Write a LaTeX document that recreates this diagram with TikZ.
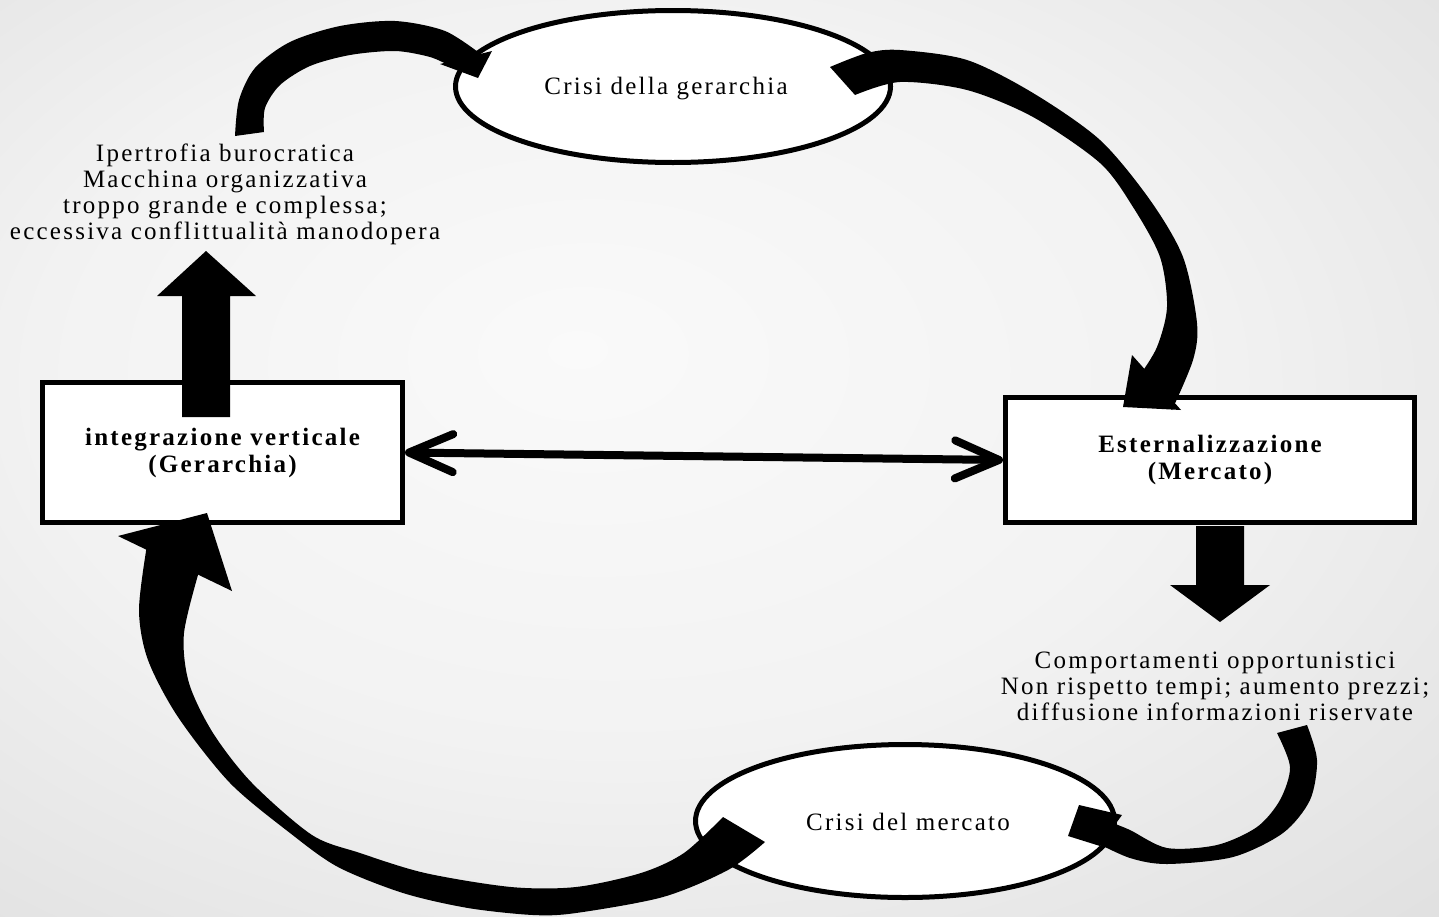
\documentclass[tikz,border=0pt]{standalone}
\usepackage{fontspec}
\setmainfont{Liberation Serif}
\newfontfamily\spaced[LetterSpace=9]{Liberation Serif}
\usetikzlibrary{arrows.meta,shapes.geometric}

% soft grey slide background, lighter in the middle
\pgfdeclareradialshading{slidebg}{\pgfpoint{-5bp}{6bp}}{%
  color(0bp)=(white!98!black); color(20bp)=(white!95!black);
  color(72bp)=(black!24)}

\begin{document}
\begin{tikzpicture}[x=1pt,y=-1pt,
  txt/.style={font=\spaced\fontsize{25}{26}\selectfont, align=center, inner sep=0pt},
  boxnode/.style={draw, line width=5pt, fill=white, rectangle, inner sep=0pt,
    font=\spaced\bfseries\fontsize{25}{27}\selectfont, align=center},
  ellnode/.style={draw, line width=5pt, fill=white, ellipse, inner sep=0pt},
  blockarrow/.style={fill=black},
  curvebody/.style={fill=black}]

\shade[shading=slidebg] (0,0) rectangle (1439,916);
\useasboundingbox (0,0) rectangle (1439,916);

% the two ways of organising production
\node[boxnode, minimum width=360pt, minimum height=140pt] (gerarchia) at (222.5,452.5)
  {integrazione verticale\\(Gerarchia)};
\node[boxnode, minimum width=409pt, minimum height=125pt] (mercato) at (1210,460)
  {Esternalizzazione\\(Mercato)};

% the two crises
\node[ellnode, minimum width=435pt, minimum height=152pt] (crisiG) at (673,86.5) {};
\node[txt] at (666,89) {Crisi della gerarchia};
\node[ellnode, minimum width=419pt, minimum height=153pt] (crisiM) at (905,821) {};
\node[txt] at (908,822) {Crisi del mercato};

% consequences of each form
\node[txt] (costiG) at (225,194) {Ipertrofia burocratica\\Macchina organizzativa\\troppo grande e complessa;\\eccessiva conflittualità manodopera};
\node[txt] (costiM) at (1215,686) {Comportamenti opportunistici\\Non rispetto tempi; aumento prezzi;\\diffusione informazioni riservate};

% two-way link between the forms
\draw[line width=8pt, {Straight Barb[length=44pt,width=38pt,round]}-{Straight Barb[length=44pt,width=38pt,round]}]
  (gerarchia.east) -- (mercato.west);

% straight block arrows
\fill[blockarrow] (182,417) -- (182,296) -- (157,296) -- (206,251) -- (256,296)
  -- (230,296) -- (230,417) -- cycle;
\fill[blockarrow] (1196,526) -- (1196,585) -- (1170,585) -- (1220,622) -- (1270,585)
  -- (1244,585) -- (1244,526) -- cycle;

% curved arrow: costs of hierarchy -> crisis of hierarchy
\fill[curvebody] plot[smooth] coordinates {(235,136) (239,100) (255,68) (290,42) (340,26) (395,21) (445,31) (482,55)}
  -- plot[smooth] coordinates {(450,66) (430,57) (395,51) (350,55) (310,66) (280,85) (265,108) (264,132)} -- cycle;
\fill[curvebody] (440,64) -- (492,51) -- (478,78) -- cycle;

% curved arrow: crisis of hierarchy -> market
\fill[curvebody] plot[smooth] coordinates {(830,67) (867,53) (900,50) (967,60) (1033,93) (1100,140) (1150,200) (1183,257) (1197,323) (1193,360) (1172,410)}
  -- plot[smooth] coordinates {(1140,375) (1157,347) (1167,307) (1160,257) (1133,207) (1100,163) (1033,117) (967,90) (900,82) (855,95)} -- cycle;
\fill[curvebody] (1132,355) -- (1181,410) -- (1123,407) -- cycle;

% curved arrow: costs of market -> crisis of market
\fill[curvebody] plot[smooth] coordinates {(1307,725) (1317,760) (1310,800) (1283,833) (1233,857) (1167,864) (1130,858) (1095,842)}
  -- plot[smooth] coordinates {(1110,822) (1130,830) (1167,848) (1217,845) (1257,827) (1280,800) (1290,767) (1277,733)} -- cycle;
\fill[curvebody] (1079,805) -- (1122,815) -- (1114,826) -- (1100,846) -- (1068,836) -- cycle;

% curved arrow: crisis of market -> hierarchy
\fill[curvebody] plot[smooth] coordinates {(765,842) (728,870) (663,897) (576,913) (533,915) (468,908) (403,893) (338,867) (290,833) (230,783) (178,717) (148,660) (139,610) (147,545)}
  -- plot[smooth] coordinates {(200,568) (184,633) (189,683) (213,733) (252,783) (312,835) (360,853) (425,873) (511,887) (576,887) (641,873) (684,853) (723,817)} -- cycle;
\fill[curvebody] (118,536) -- (232,591) -- (207,513) -- cycle;

\end{tikzpicture}
\end{document}
